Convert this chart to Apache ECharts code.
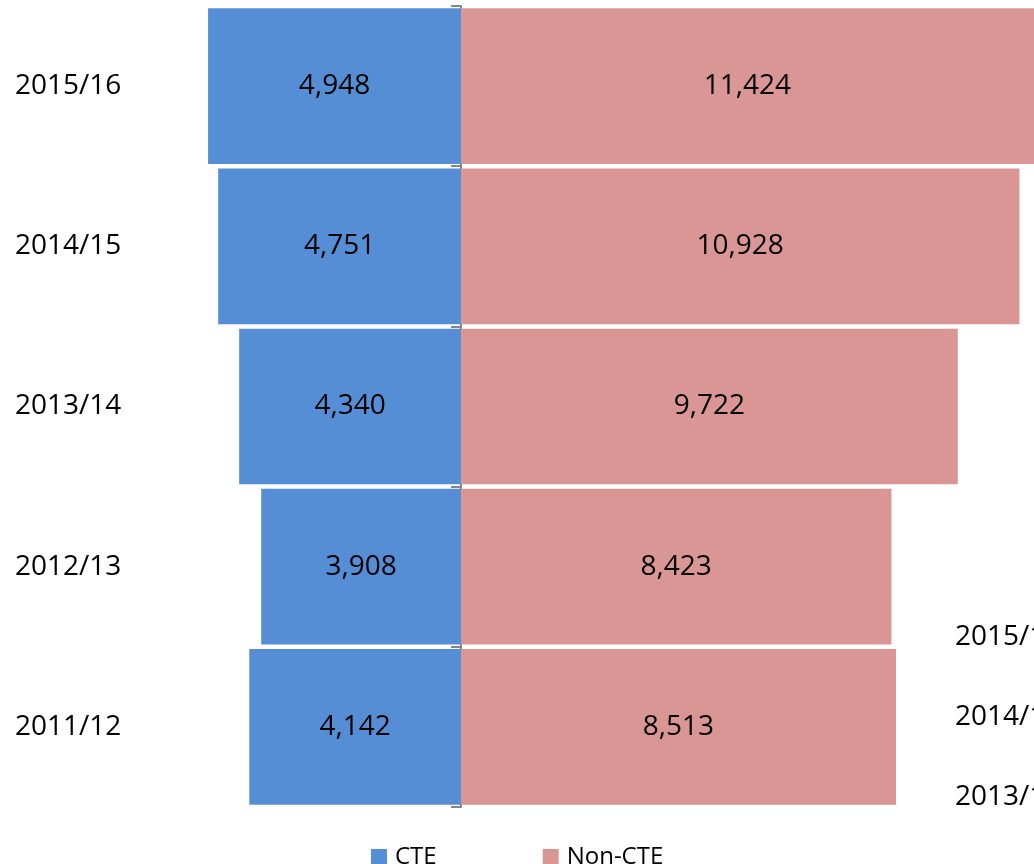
<!DOCTYPE html>
<html>
<head>
<meta charset="utf-8">
<script src="https://cdn.jsdelivr.net/npm/echarts@6/dist/echarts.min.js"></script>
<style>
  html, body { margin: 0; padding: 0; background: #ffffff; }
  #chart { width: 1034px; height: 864px; }
</style>
</head>
<body>
<div id="chart"></div>
<script>
// School years, bottom to top
const years = ['2011/12', '2012/13', '2013/14', '2014/15', '2015/16'];
// Students in CTE programmes (drawn to the left of the centre line)
const cteValues = [4142, 3908, 4340, 4751, 4948];
// Students not in CTE programmes (drawn to the right)
const nonCteValues = [8513, 8423, 9722, 10928, 11424];
// Axis labels of the neighbouring chart that peek in at the right edge
const sideLabels = ['2015/16', '2014/15', '2013/14', '2012/13'];

const FONT = '"Open Sans", "Liberation Sans", sans-serif';
const fmt = v => Math.abs(v).toLocaleString('en-US');

const chart = echarts.init(document.getElementById('chart'), null, { renderer: 'canvas' });

const barLabel = {
  show: true,
  position: 'inside',
  formatter: p => fmt(p.value),
  color: '#000000',
  fontFamily: FONT,
  fontSize: 28,
  padding: [8, 0, 0, 0]
};

chart.setOption({
  animation: false,
  backgroundColor: '#ffffff',
  grid: [
    // main plotting area; value 0 falls on x = 461
    { left: 1, right: 0, top: 6, bottom: 57, containLabel: false },
    // overlay grid whose left edge carries the centre axis line and ticks
    { left: 461, right: 0, top: 6, bottom: 57, containLabel: false }
  ],
  xAxis: [
    { type: 'value', gridIndex: 0, min: -9000, max: 11213, show: false },
    { type: 'value', gridIndex: 1, min: 0, max: 1, show: false }
  ],
  yAxis: [
    {
      type: 'category',
      gridIndex: 0,
      data: years,
      position: 'left',
      axisLine: { show: false, onZero: false },
      axisTick: { show: false },
      axisLabel: {
        align: 'left',
        margin: -14,
        color: '#000000',
        fontFamily: FONT,
        fontSize: 28,
        padding: [8, 0, 0, 0]
      }
    },
    {
      type: 'category',
      gridIndex: 1,
      data: years,
      position: 'left',
      axisLine: { show: true, onZero: false, lineStyle: { color: '#868686', width: 2 } },
      axisTick: { show: true, length: 10, lineStyle: { color: '#868686', width: 2 } },
      axisLabel: { show: false }
    }
  ],
  legend: {
    data: ['CTE', 'Non-CTE'],
    left: 371,
    top: 845,
    padding: 0,
    itemWidth: 16,
    itemHeight: 16,
    itemGap: 106,
    icon: 'rect',
    textStyle: { color: '#000000', fontFamily: FONT, fontSize: 24, padding: [0, 0, 0, 3] }
  },
  series: [
    {
      name: 'CTE',
      type: 'bar',
      stack: 'students',
      xAxisIndex: 0,
      yAxisIndex: 0,
      barCategoryGap: '2.8%',
      data: cteValues.map(v => -v),
      itemStyle: { color: '#558ED5' },
      label: barLabel
    },
    {
      name: 'Non-CTE',
      type: 'bar',
      stack: 'students',
      xAxisIndex: 0,
      yAxisIndex: 0,
      barCategoryGap: '2.8%',
      data: nonCteValues,
      itemStyle: { color: '#D99694' },
      label: barLabel
    }
  ],
  graphic: sideLabels.map((t, i) => ({
    type: 'text',
    x: 955,
    y: 637 + i * 80,
    silent: true,
    style: {
      text: t,
      fill: '#000000',
      font: '28px ' + FONT,
      verticalAlign: 'middle'
    }
  }))
});
</script>
</body>
</html>
